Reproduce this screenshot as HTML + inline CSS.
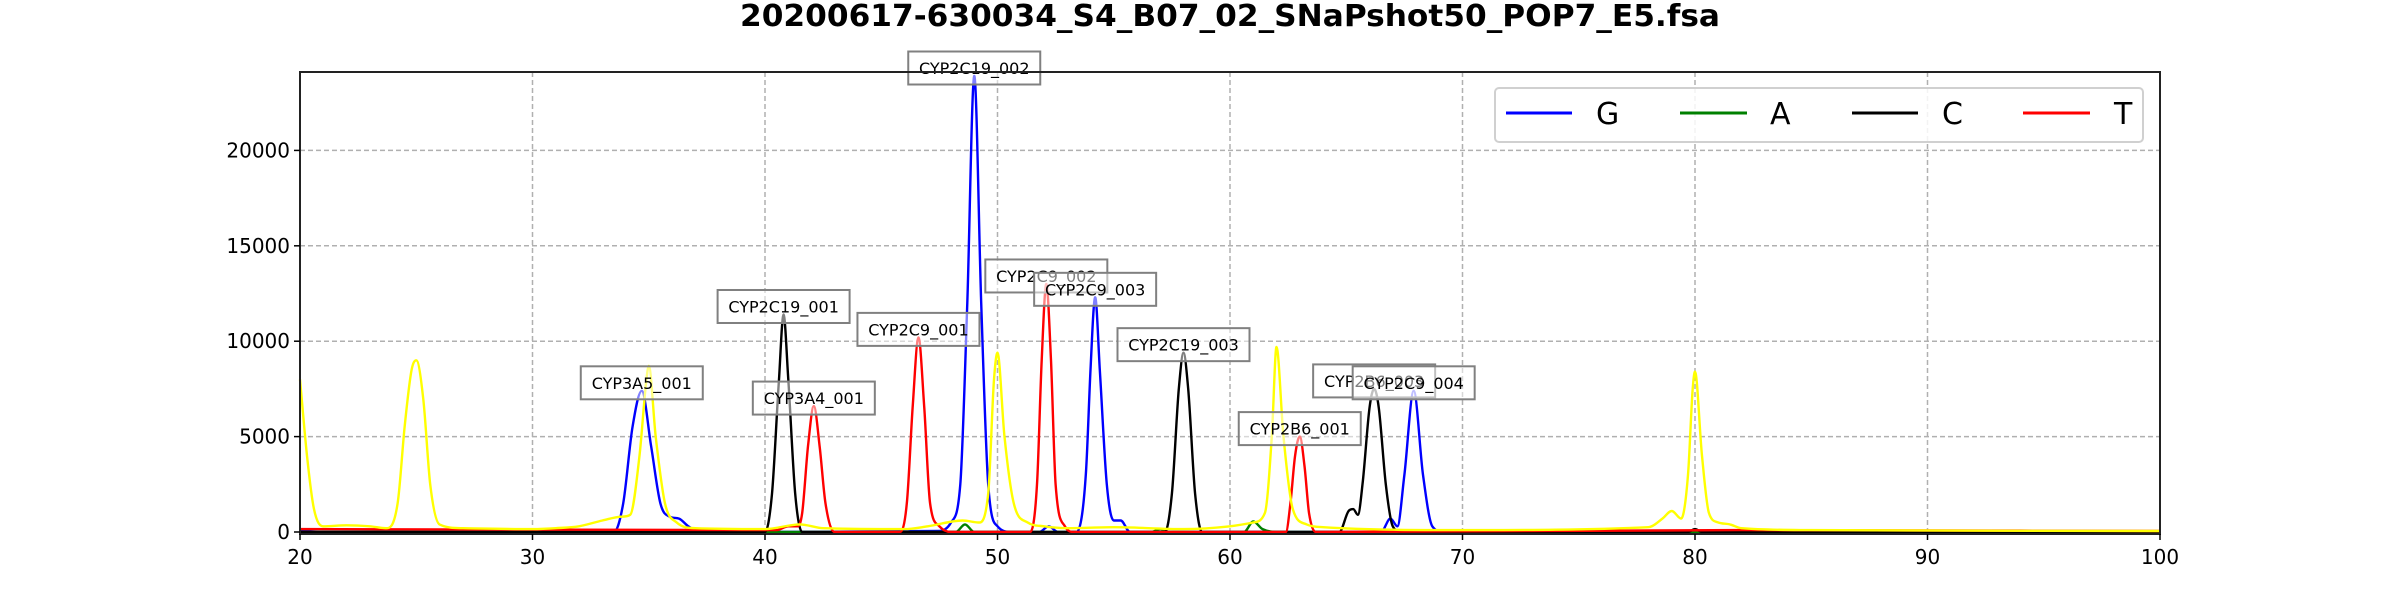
<!DOCTYPE html>
<html><head><meta charset="utf-8"><style>
html,body{margin:0;padding:0;background:#fff;}
svg{display:block;font-family:"DejaVu Sans","Liberation Sans",sans-serif;}
</style></head><body>
<svg id="chart" width="2400" height="600" viewBox="0 0 2400 600" xmlns="http://www.w3.org/2000/svg">
<rect width="2400" height="600" fill="#fff"/>
<text x="1230" y="26" text-anchor="middle" font-size="30" font-weight="bold" textLength="980" lengthAdjust="spacingAndGlyphs">20200617-630034_S4_B07_02_SNaPshot50_POP7_E5.fsa</text>
<g id="grid"></g>
<g id="series"></g>
<g id="labels"></g>
<rect x="300" y="72" width="1860" height="462" fill="none" stroke="#222" stroke-width="2"/>
<g id="ticks"></g>
<g>
<rect x="1495" y="88" width="648" height="54" rx="4" fill="#fff" fill-opacity="0.85" stroke="#d0d0d0" stroke-width="2"/>
<g><line x1="1506" y1="113" x2="1572" y2="113" stroke="#0000ff" stroke-width="3"/><text x="1596" y="124" font-size="30">G</text></g>
<g><line x1="1680" y1="113" x2="1747" y2="113" stroke="#008000" stroke-width="3"/><text x="1770" y="124" font-size="30">A</text></g>
<g><line x1="1852" y1="113" x2="1918" y2="113" stroke="#000" stroke-width="3"/><text x="1942" y="124" font-size="30">C</text></g>
<g><line x1="2023" y1="113" x2="2090" y2="113" stroke="#ff0000" stroke-width="3"/><text x="2114" y="124" font-size="30">T</text></g>
</g>
</svg>
<script>
const xTicks = [20,30,40,50,60,70,80,90,100];
const yTicks = [0,5000,10000,15000,20000];
const gX = [20,21,33.5,33.9,34.3,34.7,35.1,35.5,35.9,36.3,36.7,37.2,47.5,48.0,48.4,48.7,49.0,49.3,49.6,50.0,50.6,51.8,52.2,52.6,53.4,53.8,54.0,54.2,54.4,54.7,55.0,55.3,55.7,66.5,66.9,67.2,67.5,67.9,68.3,68.7,69.2,100];
const gY = [100,0,0,1500,5500,7400,4500,1500,800,700,300,0,50,500,2500,12000,23900,12000,2500,300,0,0,300,0,0,3000,8500,12300,8500,2500,600,600,0,0,700,300,3000,7400,3000,300,0,0];
const aX = [20,48.2,48.6,49.0,56.6,57.0,57.4,60.6,61.0,61.4,62,100];
const aY = [0,0,400,0,0,150,0,0,550,150,0,0];
const cX = [20,40.0,40.3,40.6,40.8,41.0,41.3,41.6,57.2,57.5,57.8,58.0,58.2,58.5,58.8,64.7,65.1,65.3,65.5,65.7,66.0,66.2,66.4,66.7,67.0,67.4,79.7,80,80.3,100];
const cY = [0,0,2000,8000,11400,8000,2000,0,0,2000,7500,9400,7500,2000,0,0,1100,1200,900,2500,6500,7500,6500,2500,300,0,0,150,0,0];
const tX = [20,40.5,41.0,41.4,41.6,41.85,42.1,42.35,42.6,43.0,45.8,46.1,46.35,46.6,46.85,47.1,47.5,48,51.4,51.7,51.9,52.1,52.3,52.5,52.9,53.3,62.4,62.6,62.8,63.0,63.2,63.4,63.7,82,100];
const tY = [150,100,300,300,1000,4500,6600,4500,1500,0,0,1500,6500,10200,6500,1500,300,0,0,2500,9000,13000,9000,2500,300,0,0,1500,4000,5000,3500,1000,0,100,50];
const yX = [20,20.3,20.6,21,22,23,23.7,24.2,24.5,24.8,25,25.3,25.6,26,27,30,31,32,33,33.8,34.2,34.6,34.9,35.0,35.3,35.7,36.2,37,40,41.5,42.5,46,47,48.5,49.2,49.6,49.85,50.0,50.3,50.7,51.3,52,53,55,58,60,61,61.5,61.8,62.0,62.3,62.7,63.3,64,70,78,78.6,79,79.4,79.7,79.9,80.0,80.3,80.6,81,81.5,82,85,100];
const yY = [8000,4000,1200,300,350,300,200,1500,5500,8500,9000,7000,2500,400,200,150,200,300,600,800,900,4000,8000,8700,5000,1500,500,200,150,400,200,150,300,600,500,2000,8000,9400,5000,1500,500,300,200,250,150,300,500,1000,5000,9700,5000,1200,400,250,100,250,700,1100,700,3000,7500,8400,4000,1000,500,400,200,100,50];
const labelText = ["CYP3A5_001","CYP2C19_001","CYP3A4_001","CYP2C9_001","CYP2C19_002","CYP2C9_002","CYP2C9_003","CYP2C19_003","CYP2B6_001","CYP2B6_003","CYP2C9_004"];
const labelX = [34.7,40.8,42.1,46.6,49.0,52.1,54.2,58.0,63.0,66.2,67.9];
const labelY = [7400,11400,6600,10200,23900,13000,12300,9400,5000,7500,7400];

const NS="http://www.w3.org/2000/svg";
const L=300,R=2160,T=72,B=534,XMIN=20,XMAX=100,YMIN=-105,YMAX=24110;
const sx=v=>L+(v-XMIN)/(XMAX-XMIN)*(R-L);
const sy=v=>B-(v-YMIN)/(YMAX-YMIN)*(B-T);
function mk(tag,attrs,parent){const e=document.createElementNS(NS,tag);for(const k in attrs)e.setAttribute(k,attrs[k]);parent.appendChild(e);return e;}
const grid=document.getElementById('grid'),ticks=document.getElementById('ticks'),series=document.getElementById('series'),labels=document.getElementById('labels');
xTicks.forEach(v=>{
  if(v>XMIN&&v<XMAX){const g=mk('line',{x1:sx(v),x2:sx(v),y1:T,y2:B,stroke:'#b0b0b0','stroke-width':1.5,'stroke-dasharray':'5,3'},grid);
  
  }
  const t=mk('line',{x1:sx(v),x2:sx(v),y1:B,y2:B+6,stroke:'#000','stroke-width':1.5},ticks);
  
  
  const lb=mk('text',{x:sx(v),y:B+30,'text-anchor':'middle','font-size':20},ticks);
  
  
  lb.textContent=v;
});
yTicks.forEach(v=>{
  const g=mk('line',{x1:L,x2:R,y1:sy(v),y2:sy(v),stroke:'#b0b0b0','stroke-width':1.5,'stroke-dasharray':'5,3'},grid);
  
  
  const t=mk('line',{x1:L-6,x2:L,y1:sy(v),y2:sy(v),stroke:'#000','stroke-width':1.5},ticks);
  
  
  const lb=mk('text',{x:L-10,y:sy(v)+7,'text-anchor':'end','font-size':20},ticks);
  
  
  lb.textContent=v;
});
// monotone cubic path (no overshoot)
function monoPath(xs,ys){
  const n=xs.length,px=xs.map(sx),py=ys.map(sy);
  const d=[],m=new Array(n);
  for(let i=0;i<n-1;i++)d.push((py[i+1]-py[i])/(px[i+1]-px[i]));
  m[0]=d[0];m[n-1]=d[n-2];
  for(let i=1;i<n-1;i++){m[i]=(d[i-1]*d[i]<=0)?0:(d[i-1]+d[i])/2;}
  for(let i=0;i<n-1;i++){
    if(d[i]===0){m[i]=0;m[i+1]=0;continue;}
    const a=m[i]/d[i],b=m[i+1]/d[i],s=a*a+b*b;
    if(s>9){const t=3/Math.sqrt(s);m[i]=t*a*d[i];m[i+1]=t*b*d[i];}
  }
  let p='M'+px[0].toFixed(1)+','+py[0].toFixed(1);
  for(let i=0;i<n-1;i++){
    const h=(px[i+1]-px[i])/3;
    p+=' C'+(px[i]+h).toFixed(1)+','+(py[i]+m[i]*h).toFixed(1)+' '+(px[i+1]-h).toFixed(1)+','+(py[i+1]-m[i+1]*h).toFixed(1)+' '+px[i+1].toFixed(1)+','+py[i+1].toFixed(1);
  }
  return p;
}
function drawSeries(xs,ys,color,name){
  const p=mk('path',{d:monoPath(xs,ys),fill:'none',stroke:color,'stroke-width':2.4,'stroke-linejoin':'round'},series);
  
  
}
drawSeries(gX,gY,'#0000ff','series-g');
drawSeries(aX,aY,'#008000','series-a');
drawSeries(cX,cY,'#000000','series-c');
drawSeries(tX,tY,'#ff0000','series-t');
drawSeries(yX,yY,'#ffff00','series-size-standard');
labelText.forEach((s,i)=>{
  const cx=sx(labelX[i]),cy=sy(labelY[i])-8;
  const w=s.length*10+22,h=33;
  const g=mk('g',{},labels);
  
  
  mk('rect',{x:cx-w/2,y:cy-h/2,width:w,height:h,fill:'#fff','fill-opacity':0.5,stroke:'#808080','stroke-width':2},g);
  const t=mk('text',{x:cx,y:cy+6,'text-anchor':'middle','font-size':16},g);
  t.textContent=s;
});
</script>
</body></html>
